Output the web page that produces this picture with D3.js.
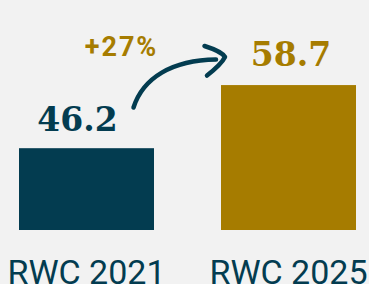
<!DOCTYPE html>
<html>
<head>
<meta charset="utf-8">
<script src="https://cdn.jsdelivr.net/npm/d3@7"></script>
<style>
  html, body { margin: 0; padding: 0; background: #f2f2f2; }
  svg { display: block; }
  .val { font-family: 'DejaVu Serif', serif; font-weight: bold; }
  .cat { font-family: 'Roboto', sans-serif; font-weight: 400; }
  .chg { font-family: 'Roboto', sans-serif; font-weight: bold; letter-spacing: 2px; }
</style>
</head>
<body>
<div id="chart"></div>
<script>
var categories = ['RWC 2021', 'RWC 2025'];
var values = [46.2, 58.7];
var valueLabels = ['46.2', '58.7'];
var changeLabel = '+27%';

var width = 369;
var height = 284;
var colors = ['#033c50', '#a67c00'];

var svg = d3.select('#chart')
    .append('svg')
    .attr('width', width)
    .attr('height', height);

svg.append('rect')
    .attr('width', width)
    .attr('height', height)
    .attr('fill', '#f2f2f2');

var x = d3.scaleBand().domain(categories).range([19, 356]).paddingInner(67 / 202);
var y = d3.scaleLinear().domain([30, 60]).range([230, 78.5]);

svg.selectAll('rect.bar')
    .data(values)
    .enter()
    .append('rect')
    .attr('class', 'bar')
    .attr('x', (d, i) => x(categories[i]))
    .attr('y', d => y(d))
    .attr('width', x.bandwidth())
    .attr('height', d => y(30) - y(d))
    .attr('fill', (d, i) => colors[i]);

// value labels sit a bit off-centre in the original
var labelDx = [-9, 2.5];
var labelDy = [-17, -19];

svg.selectAll('text.val')
    .data(values)
    .enter()
    .append('text')
    .attr('class', 'val')
    .attr('x', (d, i) => x(categories[i]) + x.bandwidth() / 2 + labelDx[i])
    .attr('y', (d, i) => y(d) + labelDy[i])
    .attr('text-anchor', 'middle')
    .attr('font-size', 33)
    .attr('fill', (d, i) => colors[i])
    .text((d, i) => valueLabels[i]);

svg.selectAll('text.cat')
    .data(categories)
    .enter()
    .append('text')
    .attr('class', 'cat')
    .attr('x', d => x(d) + x.bandwidth() / 2)
    .attr('y', 284)
    .attr('text-anchor', 'middle')
    .attr('font-size', 34)
    .attr('fill', colors[0])
    .text(d => d);

// change annotation
svg.append('text')
    .attr('class', 'chg')
    .attr('x', 121.5)
    .attr('y', 55.5)
    .attr('text-anchor', 'middle')
    .attr('font-size', 27)
    .attr('fill', colors[1])
    .text(changeLabel);

var arrow = svg.append('g')
    .attr('fill', 'none')
    .attr('stroke', colors[0])
    .attr('stroke-width', 4.5)
    .attr('stroke-linecap', 'round')
    .attr('stroke-linejoin', 'round');

arrow.append('path')
    .attr('d', 'M133.5,107.5 C143,78 172,60 216,59.5');

arrow.append('path')
    .attr('d', 'M204.5,46 C214,49 222,52 225,57 C222,63 214,70 207,75.5');
</script>
</body>
</html>
